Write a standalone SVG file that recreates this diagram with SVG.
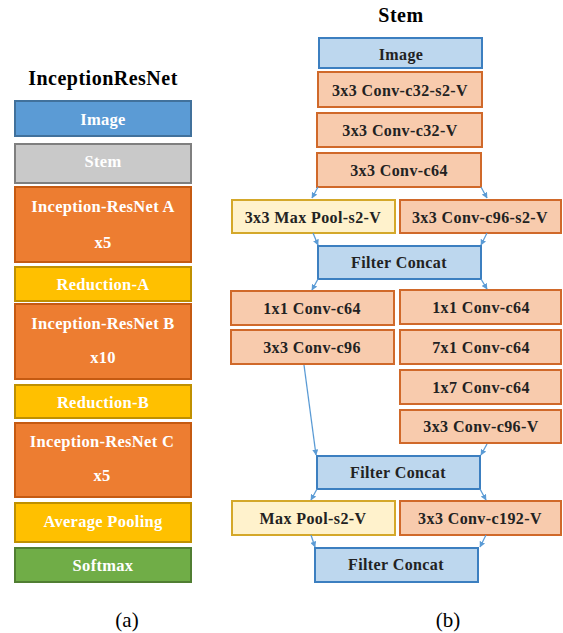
<svg xmlns="http://www.w3.org/2000/svg" width="563" height="633" viewBox="0 0 563 633">
<style>
text{font-family:"Liberation Serif","Times New Roman",serif;font-weight:bold;text-anchor:middle;dominant-baseline:central}
.w{fill:#fff;font-size:16.5px;letter-spacing:0.3px}
.d{fill:#222;font-size:16px;letter-spacing:0.4px}
.t{fill:#000;font-size:20px;letter-spacing:0.5px}
.cap{fill:#000;font-size:21px;font-weight:normal}
.blue{fill:#5B9BD5;stroke:#41719C;stroke-width:2}
.gray{fill:#C9C9C9;stroke:#7F7F7F;stroke-width:2}
.org{fill:#ED7D31;stroke:#C55A11;stroke-width:2}
.yel{fill:#FFC000;stroke:#BF9000;stroke-width:2}
.grn{fill:#70AD47;stroke:#507E32;stroke-width:2}
.lo{fill:#F8CBAD;stroke:#D0692A;stroke-width:2}
.lb{fill:#BDD7EE;stroke:#3C7FC0;stroke-width:2}
.ly{fill:#FFF2CC;stroke:#D4A82A;stroke-width:2}
.c line{stroke:#5B9BD5;stroke-width:1.3;marker-end:url(#ah)}
</style>
<defs>
<marker id="ah" viewBox="0 0 10 10" refX="9" refY="5" markerWidth="6" markerHeight="6" orient="auto" markerUnits="userSpaceOnUse">
<path d="M0,0 L10,5 L0,10 z" fill="#5B9BD5"/>
</marker>
</defs>
<text class="t" x="103" y="78">InceptionResNet</text>
<text class="t" x="401" y="15">Stem</text>

<g id="a-image"><rect class="blue" x="15" y="101" width="176" height="35"/><text class="w" x="103" y="119">Image</text></g>
<g id="a-stem"><rect class="gray" x="15" y="144" width="176" height="39"/><text class="w" x="103" y="161">Stem</text></g>
<g id="a-incA"><rect class="org" x="15" y="187" width="176" height="75"/><text class="w" x="103" y="206">Inception-ResNet A</text><text class="w" x="103" y="242">x5</text></g>
<g id="a-redA"><rect class="yel" x="15" y="267" width="176" height="34"/><text class="w" x="103" y="284">Reduction-A</text></g>
<g id="a-incB"><rect class="org" x="15" y="304" width="176" height="75"/><text class="w" x="103" y="323">Inception-ResNet B</text><text class="w" x="103" y="357">x10</text></g>
<g id="a-redB"><rect class="yel" x="15" y="385" width="176" height="33"/><text class="w" x="103" y="402">Reduction-B</text></g>
<g id="a-incC"><rect class="org" x="15" y="423" width="176" height="74"/><text class="w" x="102" y="441">Inception-ResNet C</text><text class="w" x="102" y="475">x5</text></g>
<g id="a-avg"><rect class="yel" x="15" y="503" width="176" height="39"/><text class="w" x="103" y="521">Average Pooling</text></g>
<g id="a-soft"><rect class="grn" x="15" y="548" width="176" height="34"/><text class="w" x="103" y="565">Softmax</text></g>

<g id="b-image"><rect class="lb" x="319" y="38" width="163" height="30"/><text class="d" x="401" y="54">Image</text></g>
<g id="b-c1"><rect class="lo" x="318" y="72" width="164" height="35"/><text class="d" x="400" y="90">3x3 Conv-c32-s2-V</text></g>
<g id="b-c2"><rect class="lo" x="317" y="113" width="165" height="34"/><text class="d" x="400" y="130">3x3 Conv-c32-V</text></g>
<g id="b-c3"><rect class="lo" x="317" y="153" width="164" height="34"/><text class="d" x="399" y="170">3x3 Conv-c64</text></g>
<g id="b-mp1"><rect class="ly" x="232" y="200" width="163" height="33"/><text class="d" x="313" y="217">3x3 Max Pool-s2-V</text></g>
<g id="b-c4"><rect class="lo" x="400" y="200" width="161" height="33"/><text class="d" x="480" y="217">3x3 Conv-c96-s2-V</text></g>
<g id="b-fc1"><rect class="lb" x="318" y="246" width="163" height="33"/><text class="d" x="399" y="262">Filter Concat</text></g>
<g id="b-l1"><rect class="lo" x="231" y="291" width="163" height="34"/><text class="d" x="312" y="308">1x1 Conv-c64</text></g>
<g id="b-r1"><rect class="lo" x="400" y="290" width="161" height="34"/><text class="d" x="481" y="307">1x1 Conv-c64</text></g>
<g id="b-l2"><rect class="lo" x="231" y="330" width="163" height="34"/><text class="d" x="312" y="347">3x3 Conv-c96</text></g>
<g id="b-r2"><rect class="lo" x="400" y="330" width="161" height="34"/><text class="d" x="481" y="347">7x1 Conv-c64</text></g>
<g id="b-r3"><rect class="lo" x="400" y="370" width="161" height="34"/><text class="d" x="481" y="387">1x7 Conv-c64</text></g>
<g id="b-r4"><rect class="lo" x="400" y="410" width="161" height="33"/><text class="d" x="481" y="426">3x3 Conv-c96-V</text></g>
<g id="b-fc2"><rect class="lb" x="317" y="456" width="163" height="33"/><text class="d" x="398" y="472">Filter Concat</text></g>
<g id="b-mp2"><rect class="ly" x="232" y="501" width="163" height="34"/><text class="d" x="313" y="518">Max Pool-s2-V</text></g>
<g id="b-c5"><rect class="lo" x="400" y="501" width="161" height="34"/><text class="d" x="480" y="518">3x3 Conv-c192-V</text></g>
<g id="b-fc3"><rect class="lb" x="315" y="548" width="163" height="34"/><text class="d" x="396" y="564">Filter Concat</text></g>

<g id="connectors" class="c">
<line x1="318" y1="187" x2="312" y2="198"/>
<line x1="481" y1="187" x2="487" y2="198"/>
<line x1="313" y1="233" x2="318" y2="245"/>
<line x1="487" y1="233" x2="481" y2="245"/>
<line x1="318" y1="279" x2="312" y2="290"/>
<line x1="481" y1="279" x2="487" y2="289"/>
<line x1="304" y1="365" x2="316" y2="455"/>
<line x1="487" y1="444" x2="481" y2="455"/>
<line x1="317" y1="489" x2="311" y2="500"/>
<line x1="480" y1="489" x2="486" y2="500"/>
<line x1="311" y1="535" x2="315" y2="547"/>
<line x1="486" y1="535" x2="480" y2="547"/>
</g>

<text class="cap" x="127" y="620">(a)</text>
<text class="cap" x="448" y="620">(b)</text>
</svg>
